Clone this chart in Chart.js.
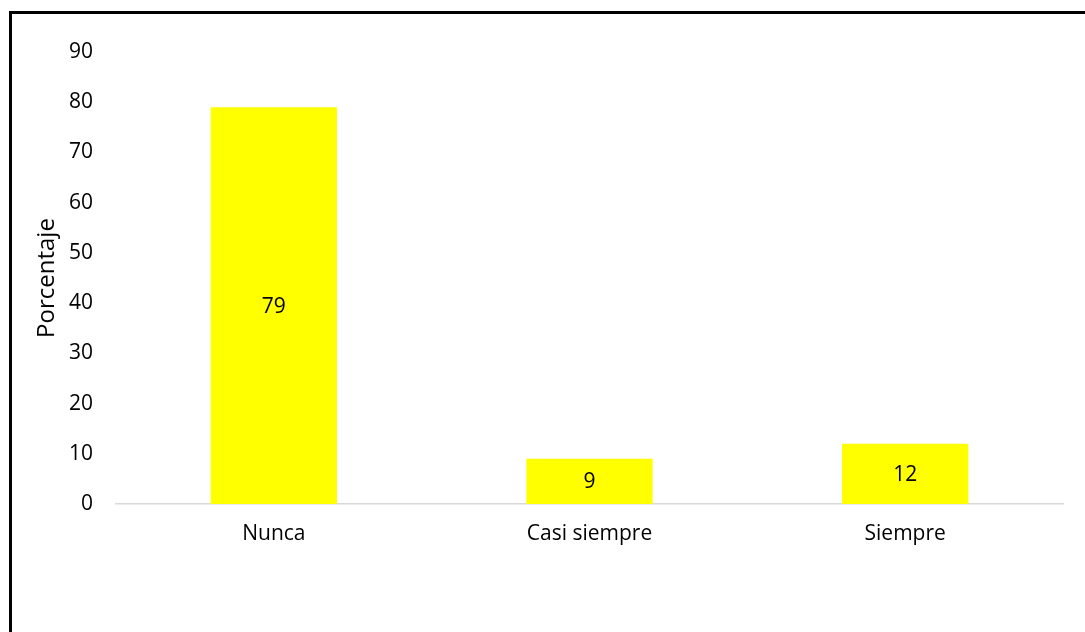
<!DOCTYPE html>
<html>
<head>
<meta charset="utf-8">
<script src="https://cdn.jsdelivr.net/npm/chart.js@4"></script>
<style>
  html, body { margin: 0; padding: 0; background: #fff; overflow: hidden; }
  #wrap { position: relative; width: 1085px; height: 632px; }
  #frame { position: absolute; left: 9px; top: 11px; width: 1200px; height: 700px;
           border-left: 3px solid #000; border-top: 3px solid #000; box-sizing: border-box; }
  canvas { position: absolute; left: 0; top: 0; }
</style>
</head>
<body>
<div id="wrap">
  <div id="frame"></div>
  <canvas id="c" width="1085" height="632"></canvas>
</div>
<script>
const categories = ["Nunca", "Casi siempre", "Siempre"];
const values = [79, 9, 12];
const yTicks = [0, 10, 20, 30, 40, 50, 60, 70, 80, 90];
const yTitle = "Porcentaje";

const FONT = "'Open Sans', 'Liberation Sans', sans-serif";
const FS = 21;
const TITLE_FS = 24;

const valueLabels = {
  id: 'valueLabels',
  afterDatasetsDraw(chart) {
    const ctx = chart.ctx;
    const meta = chart.getDatasetMeta(0);
    ctx.save();
    ctx.fillStyle = '#000';
    ctx.font = FS + "px " + FONT;
    ctx.textAlign = 'center';
    ctx.textBaseline = 'middle';
    meta.data.forEach((bar, i) => {
      const p = bar.getProps(['x', 'y', 'base'], true);
      ctx.fillText(String(values[i]), p.x, (p.y + p.base) / 2 + 1);
    });
    ctx.restore();
  }
};

new Chart(document.getElementById('c'), {
  type: 'bar',
  data: {
    labels: categories,
    datasets: [{
      data: values,
      backgroundColor: '#FFFF00',
      borderWidth: 0,
      barPercentage: 0.4,
      categoryPercentage: 1.0
    }]
  },
  options: {
    responsive: false,
    animation: false,
    devicePixelRatio: 1,
    layout: { padding: { left: 0, right: 22, top: 52, bottom: 0 } },
    plugins: { legend: { display: false }, tooltip: { enabled: false } },
    scales: {
      x: {
        grid: { display: false, drawTicks: false },
        border: { display: true, color: '#d9d9d9', width: 1.5 },
        ticks: { color: '#000', font: { family: FONT, size: FS }, padding: 17 },
        afterFit: s => { s.height = 128; }
      },
      y: {
        min: 0, max: 90,
        afterBuildTicks: s => { s.ticks = yTicks.map(v => ({ value: v })); },
        grid: { display: false, drawTicks: false },
        border: { display: false },
        ticks: { color: '#000', font: { family: FONT, size: FS }, padding: 23 },
        title: { display: true, text: yTitle, color: '#000', font: { family: FONT, size: TITLE_FS }, padding: { top: 33, bottom: 0 } },
        afterFit: s => { s.width = 116; }
      }
    }
  },
  plugins: [valueLabels]
});
</script>
</body>
</html>
